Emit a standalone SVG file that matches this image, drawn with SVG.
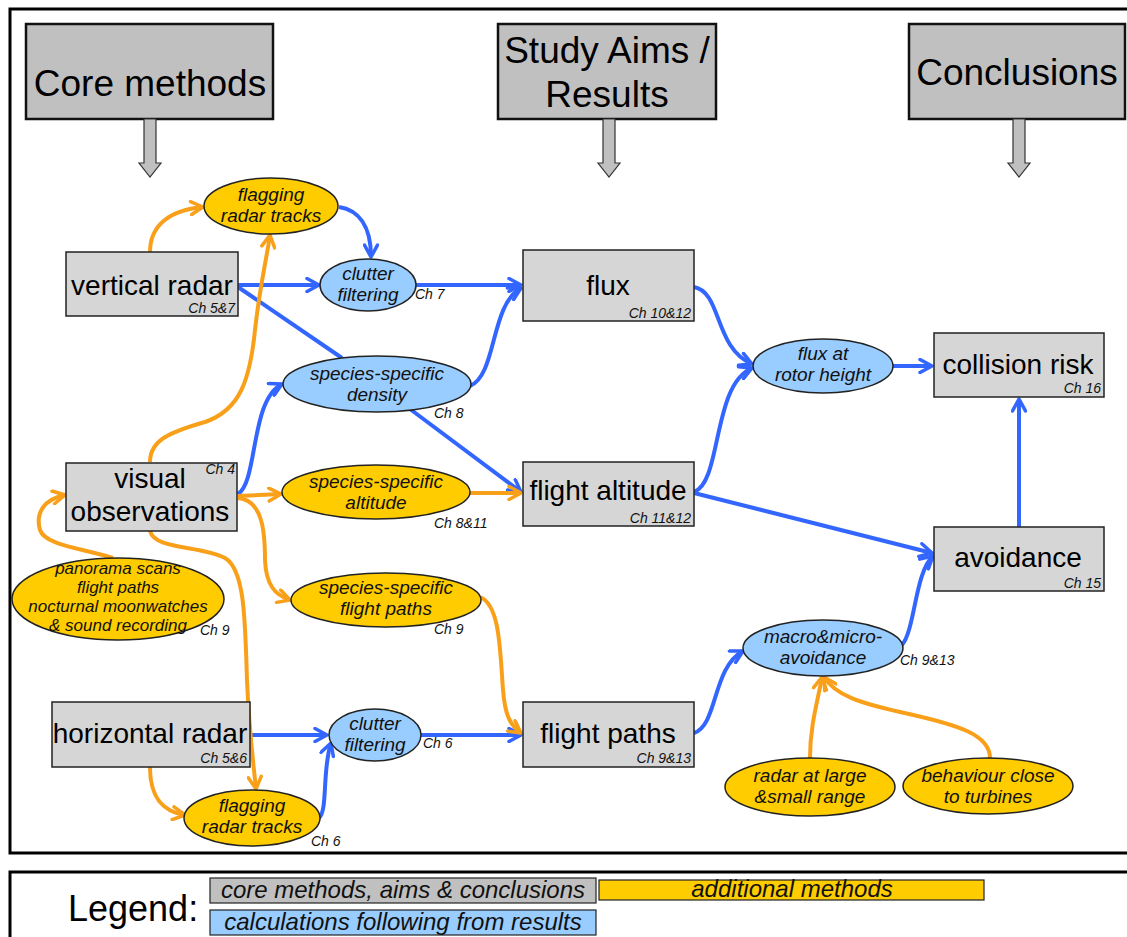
<svg xmlns="http://www.w3.org/2000/svg" width="1127" height="937" viewBox="0 0 1127 937">
<style>
.frame{fill:none;stroke:#000;stroke-width:3}
.hdr rect{fill:#c0c0c0;stroke:#111;stroke-width:2.5}
.hdr text{font-family:"Liberation Sans",Arial,sans-serif;font-size:37px;fill:#000;text-anchor:middle}
.harrow{fill:#c0c0c0;stroke:#333;stroke-width:1.2}
.core rect{fill:#d6d6d6;stroke:#222;stroke-width:1.5}
.lbl{font-family:"Liberation Sans",Arial,sans-serif;font-size:28px;fill:#000;text-anchor:middle}
.ch{font-family:"Liberation Sans",Arial,sans-serif;font-size:14px;font-style:italic;fill:#111}
.r{text-anchor:end}
.add ellipse{fill:#ffcc00;stroke:#222;stroke-width:1.5}
.calc ellipse{fill:#99ccff;stroke:#222;stroke-width:1.5}
.el{font-family:"Liberation Sans",Arial,sans-serif;font-size:19px;font-style:italic;fill:#111;text-anchor:middle}
.sm{font-size:17px}
.b{fill:none;stroke:#3366ff;stroke-width:4}
.o{fill:none;stroke:#f9a01b;stroke-width:4}
.b.a{marker-end:url(#ab)}
.o.a{marker-end:url(#ao)}
.lg{font-family:"Liberation Sans",Arial,sans-serif;font-size:24px;font-style:italic;fill:#111;text-anchor:middle}
</style>
<defs>
<marker id="ab" viewBox="0 0 16 16" refX="14" refY="8" markerWidth="16" markerHeight="16" markerUnits="userSpaceOnUse" orient="auto"><path d="M2,1.5 L14,8 L2,14.5" fill="none" stroke="#3366ff" stroke-width="3.5" stroke-linecap="round" stroke-linejoin="round"/></marker>
<marker id="ao" viewBox="0 0 16 16" refX="14" refY="8" markerWidth="16" markerHeight="16" markerUnits="userSpaceOnUse" orient="auto"><path d="M2,1.5 L14,8 L2,14.5" fill="none" stroke="#f9a01b" stroke-width="3.5" stroke-linecap="round" stroke-linejoin="round"/></marker>
</defs>
<rect width="1127" height="937" fill="#fff"/>
<rect class="frame" x="10" y="9" width="1130" height="844"/>

<g id="header-core" class="hdr"><rect x="26" y="24" width="247" height="95"/><text x="150" y="96">Core methods</text></g>
<g id="header-aims" class="hdr"><rect x="498" y="24" width="218" height="95"/><text x="607" y="63">Study Aims /</text><text x="607" y="107">Results</text></g>
<g id="header-concl" class="hdr"><rect x="909" y="24" width="216" height="95"/><text x="1017" y="85">Conclusions</text></g>
<g id="header-arrows">
<polygon class="harrow" points="144,119 156,119 156,163 161,163 150,177 139,163 144,163"/>
<polygon class="harrow" points="603,119 615,119 615,163 620,163 609,177 598,163 603,163"/>
<polygon class="harrow" points="1013,119 1025,119 1025,163 1030,163 1019,177 1008,163 1013,163"/>
</g>

<g id="connectors">
<path class="b a" d="M238,285 L319,285"/>
<path class="b a" d="M416,285 L521,285"/>
<path class="b" d="M238,287 L342,358"/>
<path class="b a" d="M410,409 L521,492"/>
<path class="b a" d="M339,207 C358,210 371,225 371,257"/>
<path class="b a" d="M238,494 C258,482 250,400 282,384"/>
<path class="b a" d="M470,386 C497,375 490,305 521,288"/>
<path class="b a" d="M694,287 C722,292 714,348 752,364"/>
<path class="b a" d="M694,492 C722,482 712,385 752,368"/>
<path class="b a" d="M893,366 L932,366"/>
<path class="b a" d="M694,493 L932,553"/>
<path class="b a" d="M1019,527 L1019,399"/>
<path class="b a" d="M250,735 L327,735"/>
<path class="b a" d="M421,735 L521,735"/>
<path class="b a" d="M319,818 C328,810 322,770 331,743"/>
<path class="b a" d="M694,733 C718,725 712,668 743,651"/>
<path class="b a" d="M902,645 C915,630 915,572 933,556"/>

<path class="o a" d="M150,252 C150,225 170,210 203,207"/>
<path class="o a" d="M150,462 C150,440 170,432 205,422 C240,410 250,380 255,330 C260,285 266,262 270,235"/>
<path class="o a" d="M113,558 C80,548 45,545 40,530 C35,512 45,499 65,495"/>
<path class="o a" d="M238,496 L281,494"/>
<path class="o a" d="M470,493 L521,493"/>
<path class="o a" d="M238,498 C262,500 265,530 265,560 C266,585 275,595 290,600"/>
<path class="o a" d="M480,597 C500,605 500,650 503,690 C505,715 510,725 521,733"/>
<path class="o a" d="M150,531 C155,550 200,545 225,558 C245,570 245,620 247,680 C249,730 253,760 256,789"/>
<path class="o a" d="M150,767 C150,800 165,812 185,815"/>
<path class="o a" d="M810,758 C810,725 818,700 822,677"/>
<path class="o a" d="M990,758 C990,735 960,725 900,712 C860,703 835,695 824,677"/>
</g>

<g id="vertical-radar" class="core"><rect x="66" y="252" width="172" height="64"/><text class="lbl" x="152" y="295">vertical radar</text><text class="ch r" x="235" y="313">Ch 5&amp;7</text></g>
<g id="visual-observations" class="core"><rect x="66" y="463" width="171" height="68"/><text class="lbl" x="150" y="488">visual</text><text class="lbl" x="150" y="521">observations</text><text class="ch r" x="235" y="474">Ch 4</text></g>
<g id="horizontal-radar" class="core"><rect x="52" y="702" width="198" height="65"/><text class="lbl" x="150" y="743">horizontal radar</text><text class="ch r" x="247" y="763">Ch 5&amp;6</text></g>
<g id="flux" class="core"><rect x="523" y="250" width="171" height="71"/><text class="lbl" x="608" y="295">flux</text><text class="ch r" x="691" y="318">Ch 10&amp;12</text></g>
<g id="flight-altitude" class="core"><rect x="523" y="462" width="171" height="64"/><text class="lbl" x="608" y="500">flight altitude</text><text class="ch r" x="691" y="523">Ch 11&amp;12</text></g>
<g id="flight-paths" class="core"><rect x="523" y="702" width="171" height="65"/><text class="lbl" x="608" y="743">flight paths</text><text class="ch r" x="691" y="763">Ch 9&amp;13</text></g>
<g id="collision-risk" class="core"><rect x="934" y="333" width="170" height="64"/><text class="lbl" x="1018" y="374">collision risk</text><text class="ch r" x="1101" y="393">Ch 16</text></g>
<g id="avoidance" class="core"><rect x="934" y="527" width="170" height="64"/><text class="lbl" x="1018" y="567">avoidance</text><text class="ch r" x="1101" y="588">Ch 15</text></g>

<g id="flagging-top" class="add"><ellipse cx="271" cy="206" rx="67" ry="28"/><text class="el" x="271" y="201">flagging</text><text class="el" x="271" y="222">radar tracks</text></g>
<g id="clutter-top" class="calc"><ellipse cx="368" cy="285" rx="48" ry="26"/><text class="el" x="368" y="280">clutter</text><text class="el" x="368" y="301">filtering</text><text class="ch" x="415" y="299">Ch 7</text></g>
<g id="density" class="calc"><ellipse cx="377" cy="384" rx="94" ry="28"/><text class="el" x="377" y="380">species-specific</text><text class="el" x="377" y="401">density</text><text class="ch" x="434" y="418">Ch 8</text></g>
<g id="altitude" class="add"><ellipse cx="376" cy="492" rx="94" ry="27"/><text class="el" x="376" y="488">species-specific</text><text class="el" x="376" y="509">altitude</text><text class="ch" x="434" y="528">Ch 8&amp;11</text></g>
<g id="ss-flight-paths" class="add"><ellipse cx="386" cy="600" rx="95" ry="27"/><text class="el" x="386" y="594">species-specific</text><text class="el" x="386" y="615">flight paths</text><text class="ch" x="434" y="634">Ch 9</text></g>
<g id="panorama" class="add"><ellipse cx="118" cy="599" rx="106" ry="41"/><text class="el sm" x="118" y="574">panorama scans</text><text class="el sm" x="118" y="593">flight paths</text><text class="el sm" x="118" y="612">nocturnal moonwatches</text><text class="el sm" x="118" y="631">&amp; sound recording</text><text class="ch" x="200" y="635">Ch 9</text></g>
<g id="clutter-bottom" class="calc"><ellipse cx="375" cy="735" rx="46" ry="26"/><text class="el" x="375" y="730">clutter</text><text class="el" x="375" y="751">filtering</text><text class="ch" x="423" y="748">Ch 6</text></g>
<g id="flagging-bottom" class="add"><ellipse cx="252" cy="818" rx="68" ry="28"/><text class="el" x="252" y="812">flagging</text><text class="el" x="252" y="833">radar tracks</text><text class="ch" x="311" y="846">Ch 6</text></g>
<g id="rotor" class="calc"><ellipse cx="823" cy="366" rx="70" ry="27"/><text class="el" x="823" y="360">flux at</text><text class="el" x="823" y="381">rotor height</text></g>
<g id="macro-micro" class="calc"><ellipse cx="823" cy="648" rx="80" ry="28"/><text class="el" x="823" y="643">macro&amp;micro-</text><text class="el" x="823" y="664">avoidance</text><text class="ch" x="900" y="665">Ch 9&amp;13</text></g>
<g id="radar-range" class="add"><ellipse cx="810" cy="787" rx="85" ry="29"/><text class="el" x="810" y="782">radar at large</text><text class="el" x="810" y="803">&amp;small range</text></g>
<g id="behaviour" class="add"><ellipse cx="988" cy="786" rx="85" ry="28"/><text class="el" x="988" y="782">behaviour close</text><text class="el" x="988" y="803">to turbines</text></g>

<g id="legend">
<rect class="frame" x="10" y="872" width="1130" height="80"/>
<text x="68" y="921" font-family="Liberation Sans, Arial, sans-serif" font-size="36" fill="#000">Legend:</text>
<rect x="210" y="878" width="386" height="25" fill="#c0c0c0" stroke="#222" stroke-width="1.2"/>
<text class="lg" x="403" y="898">core methods, aims &amp; conclusions</text>
<rect x="599" y="880" width="385" height="20" fill="#ffcc00" stroke="#222" stroke-width="1.2"/>
<text class="lg" x="792" y="897">additional methods</text>
<rect x="210" y="910" width="386" height="25" fill="#99ccff" stroke="#222" stroke-width="1.2"/>
<text class="lg" x="403" y="930">calculations following from results</text>
</g>
</svg>
